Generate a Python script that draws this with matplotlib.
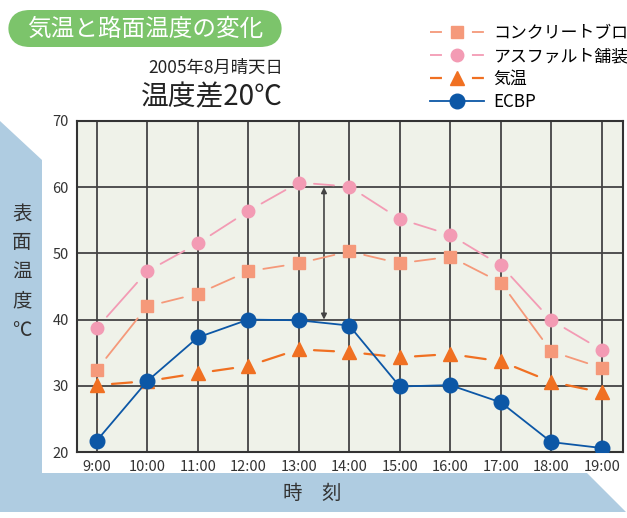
import matplotlib
matplotlib.use("Agg")
import matplotlib.pyplot as plt
from matplotlib.lines import Line2D
from matplotlib.patches import Polygon, FancyBboxPatch

plt.rcParams['font.family'] = ['Noto Sans CJK JP', 'DejaVu Sans']

hours = [9, 10, 11, 12, 13, 14, 15, 16, 17, 18, 19]
hour_labels = ['9:00', '10:00', '11:00', '12:00', '13:00', '14:00',
               '15:00', '16:00', '17:00', '18:00', '19:00']
concrete = [32.4, 42.0, 43.9, 47.3, 48.5, 50.3, 48.5, 49.5, 45.6, 35.2, 32.7]
asphalt = [38.7, 47.3, 51.5, 56.4, 60.7, 60.1, 55.2, 52.8, 48.2, 39.9, 35.4]
air = [30.1, 30.7, 31.9, 33.0, 35.5, 35.1, 34.3, 34.8, 33.7, 30.6, 29.0]
ecbp = [21.7, 30.7, 37.3, 40.0, 39.9, 39.1, 29.9, 30.1, 27.5, 21.5, 20.6]
yticks = [20, 30, 40, 50, 60, 70]
arrow_x = 13.5
arrow_y = [40, 60]

W, H = 627, 518
fig = plt.figure(figsize=(W / 100, H / 100), dpi=100)

def px(x, y):
    return (x / W, 1 - y / H)

# light blue L-shaped band
band = Polygon([px(0, 121), px(42, 160), px(42, 473), px(587, 473),
                px(626, 512), px(0, 512)], closed=True,
               transform=fig.transFigure, facecolor='#afcce1', edgecolor='none')
fig.patches.append(band)

# title box
box = FancyBboxPatch(px(8, 47), 274 / W, 37 / H, boxstyle='round,pad=0,rounding_size=0.035',
                     transform=fig.transFigure, facecolor='#7cc46b', edgecolor='none',
                     mutation_aspect=W / H)
fig.patches.append(box)
fig.text(*px(145, 29), '気温と路面温度の変化', color='white', fontsize=17,
         ha='center', va='center')
fig.text(*px(283, 68), '2005年8月晴天日', color='#222222', fontsize=12.5,
         ha='right', va='center')
fig.text(*px(283, 97), '温度差20℃', color='#222222', fontsize=20,
         ha='right', va='center')

fig.text(*px(22, 272), '表\n面\n温\n度\n℃', color='#333333', fontsize=14,
         ha='center', va='center', linespacing=1.5)
fig.text(*px(312, 493), '時　刻', color='#333333', fontsize=14,
         ha='center', va='center')

ax = fig.add_axes([77 / W, 1 - 452 / H, 546 / W, 331 / H])
ax.set_facecolor('#eff2e9')
ax.set_xlim(8.61, 19.42)
ax.set_ylim(20, 70)
ax.set_xticks(hours)
ax.set_xticklabels(hour_labels)
ax.set_yticks(yticks)
ax.tick_params(length=0, labelsize=10.5, labelcolor='#333333', pad=6)
for s in ax.spines.values():
    s.set_color('#333333')
    s.set_linewidth(1.5)
ax.grid(True, color='#444444', linewidth=1.3)
ax.set_axisbelow(True)

def gapped(ys, color, lw, shrink, z):
    # line pieces that stop short of each marker
    for i in range(len(hours) - 1):
        ax.annotate('', xy=(hours[i + 1], ys[i + 1]), xytext=(hours[i], ys[i]),
                    arrowprops=dict(arrowstyle='-', color=color, lw=lw,
                                    shrinkA=shrink, shrinkB=shrink),
                    zorder=z)

c_con, c_asp, c_air, c_ecbp = '#f5997a', '#f39bb4', '#f07022', '#0c57a6'

gapped(asphalt, c_asp, 1.3, 11, 3)
ax.plot(hours, asphalt, 'o', color=c_asp, ms=9, zorder=4)
gapped(concrete, c_con, 1.3, 11, 3)
ax.plot(hours, concrete, 's', color=c_con, ms=8.5, zorder=4)
gapped(air, c_air, 1.6, 11, 3)
ax.plot(hours, air, '^', color=c_air, ms=10, zorder=5)
ax.plot(hours, ecbp, '-o', color=c_ecbp, lw=1.3, ms=10.5, zorder=6)

ax.annotate('', xy=(arrow_x, arrow_y[1]), xytext=(arrow_x, arrow_y[0]),
            arrowprops=dict(arrowstyle='<|-|>', color='#444444', lw=1.2,
                            mutation_scale=8, shrinkA=0, shrinkB=0), zorder=2)

handles = [
    Line2D([], [], color=c_con, lw=1.3, marker='s', ms=8.5, dashes=(8.6 / 1.3, 21.6 / 1.3)),
    Line2D([], [], color=c_asp, lw=1.3, marker='o', ms=9, dashes=(8.6 / 1.3, 21.6 / 1.3)),
    Line2D([], [], color=c_air, lw=1.6, marker='^', ms=10, dashes=(8.6 / 1.6, 21.6 / 1.6)),
    Line2D([], [], color=c_ecbp, lw=1.3, marker='o', ms=10.5),
]
labels = ['コンクリートブロ', 'アスファルト舗装', '気温', 'ECBP']
fig.legend(handles, labels, loc='upper left', bbox_to_anchor=px(430, 24),
           frameon=False, fontsize=12.2, handlelength=3.2, handletextpad=0.55,
           labelspacing=0.3, borderpad=0, borderaxespad=0, numpoints=1)

fig.savefig('out.png', dpi=100)
